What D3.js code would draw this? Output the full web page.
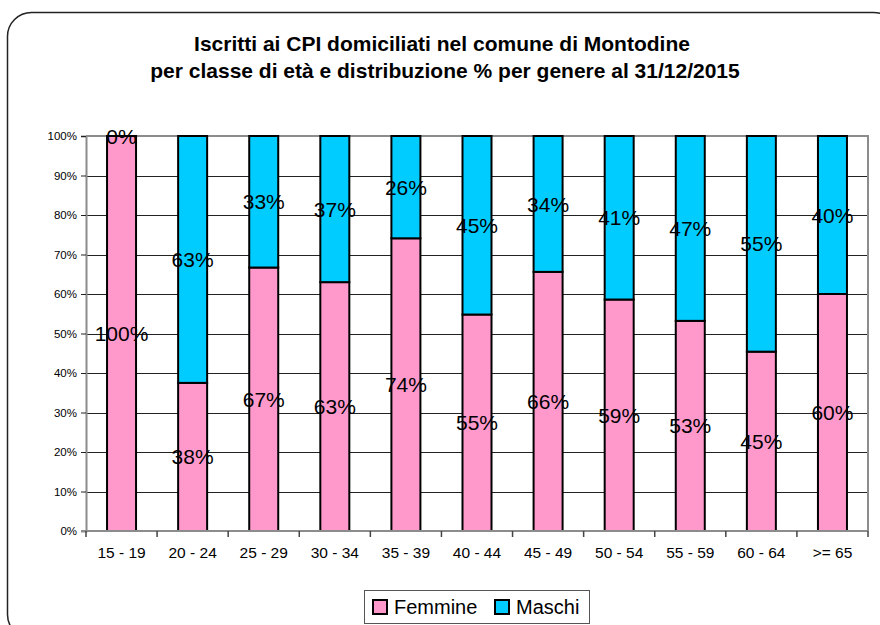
<!DOCTYPE html>
<html>
<head>
<meta charset="utf-8">
<script src="https://cdn.jsdelivr.net/npm/d3@7"></script>
<style>
  body { margin: 0; background: #fff; }
  text { font-family: "Liberation Sans", Arial, sans-serif; }
</style>
</head>
<body>
<div id="chart"></div>
<script>
// age classes and % share per gender
let categories = ["15 - 19", "20 - 24", "25 - 29", "30 - 34", "35 - 39", "40 - 44",
  "45 - 49", "50 - 54", "55 - 59", "60 - 64", ">= 65"];
let femmine = [100, 37.5, 66.7, 63.0, 74.1, 54.8, 65.6, 58.6, 53.2, 45.4, 60.0];
let maschi = [0, 62.5, 33.3, 37.0, 25.9, 45.2, 34.4, 41.4, 46.8, 54.6, 40.0];
let yTicks = [0, 10, 20, 30, 40, 50, 60, 70, 80, 90, 100];
let seriesNames = ["Femmine", "Maschi"];
let colors = ["#FF99CC", "#00CCFF"];

let svgWidth = 880;
let svgHeight = 625;

let plot = { left: 86, right: 868, top: 136, bottom: 531 };

let svg = d3.select("#chart")
  .append("svg")
  .attr("width", svgWidth)
  .attr("height", svgHeight);

// outer rounded frame
svg.append("rect")
  .attr("x", 7.5)
  .attr("y", 12.5)
  .attr("width", 890)
  .attr("height", 626)
  .attr("rx", 24)
  .attr("fill", "#fff")
  .attr("stroke", "#222")
  .attr("stroke-width", 1.5);

// title
let title = svg.append("text")
  .attr("text-anchor", "middle")
  .style("font-weight", "bold")
  .style("font-size", "21px")
  .attr("fill", "#000");
title.append("tspan").attr("x", 442).attr("y", 51)
  .text("Iscritti ai CPI domiciliati nel comune di Montodine");
title.append("tspan").attr("x", 445).attr("y", 78)
  .text("per classe di età e distribuzione % per genere al 31/12/2015");

// scales
let pad = 1 - 29 / ((plot.right - plot.left) / categories.length);
let x = d3.scaleBand()
  .domain(categories)
  .range([plot.left, plot.right])
  .paddingInner(pad)
  .paddingOuter(pad / 2);

let y = d3.scaleLinear()
  .domain([0, 100])
  .range([plot.bottom, plot.top]);

// gridlines
svg.append("g")
  .selectAll("line")
  .data(yTicks.filter(d => d > 0 && d < 100))
  .enter()
  .append("line")
  .attr("x1", plot.left)
  .attr("x2", plot.right)
  .attr("y1", d => Math.round(y(d)) + 0.5)
  .attr("y2", d => Math.round(y(d)) + 0.5)
  .attr("stroke", "#222")
  .attr("stroke-width", 1);

// plot frame top / right in gray
svg.append("path")
  .attr("d", `M${plot.left},${plot.top}H${plot.right}V${plot.bottom}`)
  .attr("fill", "none")
  .attr("stroke", "#8c8c8c")
  .attr("stroke-width", 2);

// stacked data
let table = categories.map((c, i) => ({ cat: c, Femmine: femmine[i], Maschi: maschi[i] }));
let stacked = d3.stack().keys(seriesNames)(table);

let groups = svg.append("g")
  .selectAll("g")
  .data(stacked)
  .enter()
  .append("g")
  .attr("fill", (d, i) => colors[i]);

groups.selectAll("rect")
  .data(d => d)
  .enter()
  .append("rect")
  .attr("x", d => x(d.data.cat))
  .attr("y", d => y(d[1]))
  .attr("width", x.bandwidth())
  .attr("height", d => y(d[0]) - y(d[1]))
  .attr("stroke", "#000")
  .attr("stroke-width", 2);

// y axis
let leftAxis = d3.axisLeft(y)
  .tickValues(yTicks)
  .tickSize(5)
  .tickFormat(d => d + "%");
let yAxisG = svg.append("g")
  .attr("transform", `translate(${plot.left}, 0)`)
  .call(leftAxis);
yAxisG.select(".domain").attr("stroke", "#8c8c8c").attr("stroke-width", 2);
yAxisG.selectAll(".tick line").attr("stroke", "#222");
yAxisG.selectAll(".tick text")
  .style("font-size", "11.5px")
  .attr("fill", "#000")
  .attr("x", -9);

// x axis baseline and ticks at category boundaries
let step = x.step();
let boundaries = d3.range(categories.length + 1).map(i => plot.left + i * step);
svg.append("line")
  .attr("x1", plot.left - 5)
  .attr("x2", plot.right)
  .attr("y1", plot.bottom)
  .attr("y2", plot.bottom)
  .attr("stroke", "#8c8c8c")
  .attr("stroke-width", 2);
svg.append("g")
  .selectAll("line")
  .data(boundaries)
  .enter()
  .append("line")
  .attr("x1", d => d)
  .attr("x2", d => d)
  .attr("y1", plot.bottom)
  .attr("y2", plot.bottom + 6)
  .attr("stroke", "#444")
  .attr("stroke-width", 1.5);
svg.append("g")
  .selectAll("text")
  .data(categories)
  .enter()
  .append("text")
  .attr("x", d => x(d) + x.bandwidth() / 2)
  .attr("y", plot.bottom + 27)
  .attr("text-anchor", "middle")
  .style("font-size", "15.5px")
  .attr("fill", "#000")
  .text(d => d);

// data labels in the middle of every segment
groups.selectAll("text")
  .data(d => d)
  .enter()
  .append("text")
  .attr("x", d => x(d.data.cat) + x.bandwidth() / 2)
  .attr("y", d => (y(d[0]) + y(d[1])) / 2)
  .attr("dy", "0.36em")
  .attr("text-anchor", "middle")
  .style("font-size", "21px")
  .attr("fill", "#000")
  .text(d => Math.round(d[1] - d[0]) + "%");

// legend
let legend = svg.append("g");
legend.append("rect")
  .attr("x", 364.5)
  .attr("y", 590.5)
  .attr("width", 225)
  .attr("height", 33)
  .attr("fill", "#fff")
  .attr("stroke", "#555")
  .attr("stroke-width", 1);
let legendX = [373, 495];
seriesNames.forEach((name, i) => {
  legend.append("rect")
    .attr("x", legendX[i])
    .attr("y", 600)
    .attr("width", 14)
    .attr("height", 14)
    .attr("fill", colors[i])
    .attr("stroke", "#000")
    .attr("stroke-width", 2);
  legend.append("text")
    .attr("x", legendX[i] + 21)
    .attr("y", 614)
    .style("font-size", "20px")
    .attr("fill", "#000")
    .text(name);
});
</script>
</body>
</html>
